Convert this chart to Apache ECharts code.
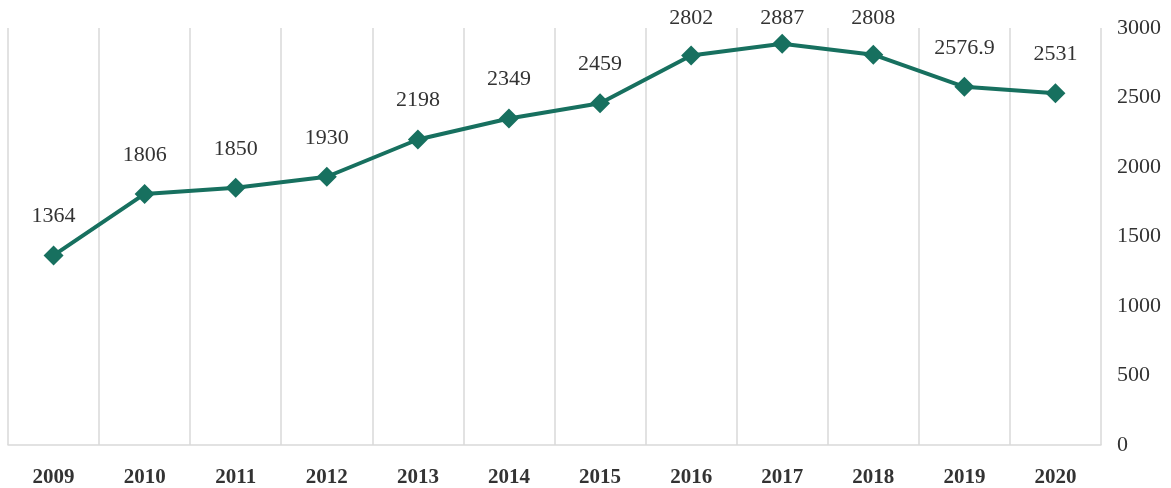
<!DOCTYPE html>
<html>
<head>
    <meta charset="UTF-8">
    <title>chart</title>
    <script src="https://cdn.jsdelivr.net/npm/echarts@6/dist/echarts.min.js"></script>
    <style>
        html, body { margin: 0; padding: 0; background: #ffffff; }
        #container { width: 1171px; height: 488px; }
    </style>
</head>
<body>
<div id="container"></div>
<script>
    // data
    var years = ['2009', '2010', '2011', '2012', '2013', '2014', '2015', '2016', '2017', '2018', '2019', '2020'];
    var values = [1364, 1806, 1850, 1930, 2198, 2349, 2459, 2802, 2887, 2808, 2576.9, 2531];
    var yTicks = { min: 0, max: 3000, interval: 500 };

    var lineColor = '#17705f';
    var textColor = '#333333';
    var gridColor = '#d9d9d9';
    var serif = '"Liberation Serif", "Times New Roman", serif';

    var chart = echarts.init(document.getElementById('container'), null, {renderer: 'canvas'});
    var option = {
        animation: false,
        grid: { left: 8, right: 70, top: 28, bottom: 43, containLabel: false },
        xAxis: {
            type: 'category',
            data: years,
            boundaryGap: true,
            axisLine: { show: true, lineStyle: { color: gridColor, width: 1.5 } },
            axisTick: { show: false },
            axisLabel: {
                color: textColor,
                fontFamily: serif,
                fontSize: 21,
                fontWeight: 'bold',
                margin: 22
            },
            splitLine: { show: true, lineStyle: { color: gridColor, width: 1.5 } }
        },
        yAxis: {
            type: 'value',
            position: 'right',
            min: yTicks.min,
            max: yTicks.max,
            interval: yTicks.interval,
            axisLine: { show: false },
            axisTick: { show: false },
            splitLine: { show: false },
            axisLabel: {
                color: textColor,
                fontFamily: serif,
                fontSize: 22,
                margin: 16,
                formatter: function (v) { return String(v); }
            }
        },
        series: [
            {
                type: 'line',
                data: values,
                symbol: 'diamond',
                symbolSize: 20,
                lineStyle: { color: lineColor, width: 4 },
                itemStyle: { color: lineColor },
                label: {
                    show: true,
                    position: 'top',
                    distance: 18,
                    color: textColor,
                    fontFamily: serif,
                    fontSize: 22
                },
                // keep labels inside the picture, like the original
                labelLayout: function (params) {
                    var r = params.labelRect;
                    if (r.y < 7) {
                        return { dy: 7 - r.y };
                    }
                    return {};
                }
            }
        ]
    };
    chart.setOption(option);
</script>
</body>
</html>
